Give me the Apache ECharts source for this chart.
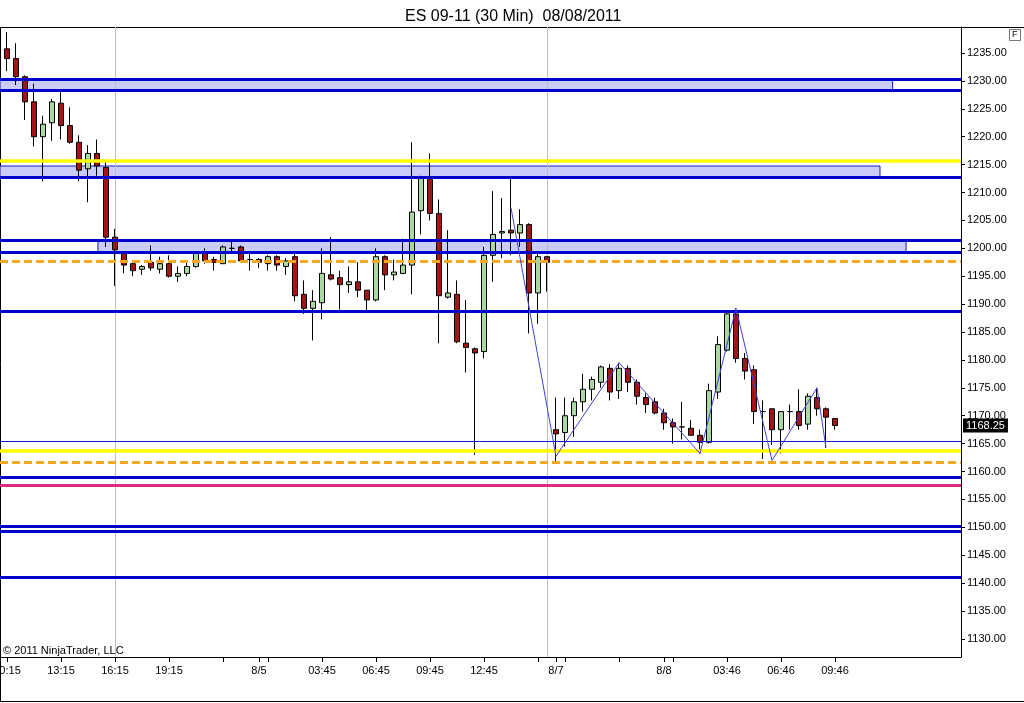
<!DOCTYPE html>
<html>
<head>
<meta charset="utf-8">
<title>ES 09-11 (30 Min)</title>
<script src="https://cdn.jsdelivr.net/npm/echarts@6/dist/echarts.min.js"></script>
<style>
html, body { margin: 0; padding: 0; background: #fff; }
#chart { width: 1024px; height: 703px; }
</style>
</head>
<body>
<div id="chart"></div>
<script>
// 30 min bars, index 0 = 8/4 10:15 ... index 92 = 8/8 09:46
// each bar: [open, close, low, high]
const bars = [
	[1235.75, 1234.0, 1231.75, 1238.75],
	[1234.0, 1230.75, 1229.25, 1236.75],
	[1230.75, 1226.25, 1223.0, 1231.0],
	[1226.25, 1220.0, 1218.25, 1229.5],
	[1220.0, 1222.25, 1212.0, 1223.75],
	[1222.5, 1226.25, 1219.25, 1226.75],
	[1226.0, 1222.0, 1219.5, 1228.0],
	[1222.0, 1219.0, 1218.75, 1225.25],
	[1219.0, 1214.0, 1212.0, 1220.25],
	[1214.25, 1217.0, 1208.25, 1218.5],
	[1217.0, 1214.75, 1213.0, 1219.5],
	[1214.5, 1202.0, 1200.25, 1215.75],
	[1202.0, 1199.75, 1193.25, 1203.5],
	[1199.25, 1197.0, 1195.5, 1199.5],
	[1197.25, 1196.0, 1195.0, 1197.5],
	[1196.25, 1196.75, 1195.25, 1197.0],
	[1197.5, 1196.5, 1196.0, 1200.5],
	[1196.25, 1197.25, 1195.5, 1198.5],
	[1197.25, 1195.0, 1194.75, 1198.75],
	[1195.0, 1195.5, 1194.0, 1196.75],
	[1195.5, 1196.75, 1195.0, 1197.5],
	[1196.75, 1199.25, 1196.5, 1199.5],
	[1199.25, 1197.75, 1197.25, 1200.0],
	[1198.0, 1197.5, 1196.0, 1198.5],
	[1197.25, 1200.25, 1197.25, 1200.5],
	[1200.0, 1200.0, 1199.5, 1201.25],
	[1200.25, 1197.75, 1197.75, 1200.5],
	[1198.0, 1198.0, 1196.0, 1199.0],
	[1198.0, 1197.5, 1196.5, 1198.25],
	[1197.25, 1198.5, 1196.0, 1198.75],
	[1198.5, 1197.0, 1196.0, 1198.75],
	[1196.75, 1197.75, 1195.25, 1198.25],
	[1198.5, 1191.5, 1190.5, 1199.0],
	[1191.75, 1189.25, 1188.25, 1194.25],
	[1189.25, 1190.5, 1183.5, 1192.5],
	[1190.25, 1195.5, 1187.25, 1200.0],
	[1195.25, 1194.5, 1194.25, 1202.0],
	[1194.75, 1193.5, 1189.0, 1196.0],
	[1193.5, 1194.0, 1192.0, 1196.75],
	[1194.0, 1192.5, 1191.25, 1197.5],
	[1192.5, 1190.75, 1188.75, 1192.5],
	[1190.75, 1198.5, 1190.5, 1200.0],
	[1198.5, 1195.25, 1192.5, 1198.75],
	[1195.25, 1195.75, 1194.25, 1198.0],
	[1195.5, 1197.0, 1195.5, 1201.75],
	[1197.0, 1206.5, 1191.75, 1219.0],
	[1206.75, 1212.75, 1202.5, 1213.0],
	[1212.75, 1206.25, 1205.0, 1217.0],
	[1206.25, 1191.5, 1183.0, 1208.75],
	[1191.25, 1192.0, 1191.0, 1203.25],
	[1191.75, 1183.25, 1183.0, 1194.25],
	[1183.0, 1182.25, 1177.75, 1190.75],
	[1182.0, 1181.25, 1163.0, 1182.25],
	[1181.5, 1198.75, 1180.25, 1200.25],
	[1198.75, 1202.5, 1194.0, 1210.25],
	[1202.75, 1203.0, 1198.25, 1209.0],
	[1203.25, 1202.75, 1198.75, 1212.5],
	[1202.75, 1204.25, 1200.25, 1207.0],
	[1204.25, 1192.0, 1184.75, 1204.5],
	[1192.0, 1198.5, 1186.5, 1199.5],
	[1198.5, 1197.5, 1192.25, 1198.5],
	[1167.5, 1166.75, 1161.5, 1173.25],
	[1167.0, 1170.0, 1164.5, 1173.25],
	[1170.0, 1172.5, 1166.25, 1173.25],
	[1172.5, 1174.75, 1170.75, 1177.5],
	[1174.75, 1176.5, 1172.75, 1177.0],
	[1176.0, 1178.75, 1175.0, 1179.0],
	[1178.5, 1174.25, 1172.75, 1179.25],
	[1174.5, 1178.5, 1173.0, 1179.5],
	[1178.5, 1176.0, 1174.25, 1179.0],
	[1176.0, 1173.5, 1172.0, 1176.5],
	[1173.25, 1172.0, 1170.5, 1174.0],
	[1172.5, 1170.5, 1170.25, 1173.25],
	[1170.5, 1168.75, 1167.5, 1171.25],
	[1168.75, 1168.0, 1165.0, 1169.5],
	[1168.0, 1168.0, 1165.75, 1172.5],
	[1167.75, 1166.5, 1166.5, 1169.25],
	[1166.5, 1165.25, 1163.25, 1167.5],
	[1165.25, 1174.5, 1165.0, 1175.75],
	[1174.25, 1182.75, 1173.0, 1184.25],
	[1181.75, 1188.25, 1181.5, 1188.5],
	[1188.25, 1180.25, 1179.5, 1189.25],
	[1180.25, 1178.0, 1176.5, 1181.25],
	[1178.25, 1170.75, 1168.5, 1179.0],
	[1170.75, 1170.75, 1162.25, 1172.75],
	[1171.25, 1167.5, 1164.75, 1171.25],
	[1167.5, 1170.75, 1163.25, 1170.75],
	[1170.75, 1170.75, 1167.5, 1172.0],
	[1170.75, 1168.25, 1167.5, 1174.75],
	[1168.5, 1173.5, 1167.5, 1174.0],
	[1173.25, 1171.25, 1170.0, 1175.0],
	[1171.25, 1169.75, 1164.25, 1171.5],
	[1169.5, 1168.25, 1167.5, 1169.5]
]

/* time axis */
const tickIndex = [0, 6, 12, 18, 24, 28, 29, 35, 41, 47, 53, 59, 61, 62, 68, 73, 74, 80, 86, 92]
const labelIndex = [0, 6, 12, 18, 28, 35, 41, 47, 53, 61, 73, 80, 86, 92]
const timeLabels = ['10:15', '13:15', '16:15', '19:15', '8/5', '03:45', '06:45', '09:45', '12:45', '8/7', '8/8', '03:46', '06:46', '09:46']
const sessionBreaks = [12, 60]

/* price axis */
const priceTicks = [1130, 1135, 1140, 1145, 1150, 1155, 1160, 1165, 1170, 1175, 1180, 1185,
	1190, 1195, 1200, 1205, 1210, 1215, 1220, 1225, 1230, 1235]

/* drawn levels */
const levelPrices = [1230.25, 1228.25, 1215.75, 1212.75, 1201.5, 1199.25, 1197.75, 1188.75,
	1165.5, 1163.75, 1161.75, 1159.0, 1157.5, 1150.25, 1149.25, 1141.0]
const levelKinds = ['blue', 'blue', 'yellow', 'blue', 'blue', 'blue', 'orange', 'blue',
	'thin', 'yellow', 'orange', 'blue', 'pink', 'blue', 'blue', 'blue']

/* zones: bar index from/to, price low/high */
const zoneFrom = [-0.78, -0.78, 10.1]
const zoneTo = [98.4, 97.0, 99.9]
const zoneLow = [1228.25, 1212.75, 1199.25]
const zoneHigh = [1230.25, 1214.75, 1201.5]

/* zigzag swing points: [bar index, price] */
const zigzag = [[56, 1207.25], [61, 1162.75], [68, 1179.5], [77, 1163.25],
	[81, 1189.25], [85, 1162.0], [90, 1175.0], [91, 1164.25]]


const FONT = 'Liberation Sans, Arial, sans-serif'

const levelStyle = {
	blue: {color: '#0000CD', width: 3, type: 'solid'},
	thin: {color: '#1414C8', width: 1, type: 'solid'},
	yellow: {color: '#FFFF00', width: 3.5, type: 'solid'},
	orange: {color: '#F5A623', width: 3, type: [8, 4]},
	pink: {color: '#DC2A7C', width: 3, type: 'solid'}
}

const chart = echarts.init(document.getElementById('chart'))
const lastClose = bars[bars.length - 1][1]

chart.setOption({
	animation: false,
	backgroundColor: '#fff',
	textStyle: {fontFamily: FONT},
	title: {
		text: 'ES 09-11 (30 Min)  08/08/2011',
		left: 400,
		top: 4,
		textStyle: {fontSize: 16, fontWeight: 'normal', color: '#000', fontFamily: FONT}
	},
	grid: {left: 0, right: 63, top: 27, bottom: 46, outerBoundsMode: 'none', containLabel: false},
	xAxis: {
		type: 'value',
		min: -0.78,
		max: 106,
		splitLine: {show: false},
		axisLine: {onZero: false, lineStyle: {color: '#000', width: 1}},
		axisTick: {customValues: tickIndex, length: 5, lineStyle: {color: '#000'}},
		axisLabel: {
			customValues: labelIndex,
			formatter: v => timeLabels[labelIndex.indexOf(v)],
			margin: 8,
			color: '#000',
			fontSize: 11,
			fontFamily: FONT
		}
	},
	yAxis: {
		type: 'value',
		position: 'right',
		min: 1126.77,
		max: 1239.66,
		scale: true,
		splitLine: {show: false},
		axisLine: {show: true, onZero: false, lineStyle: {color: '#000', width: 1}},
		axisTick: {show: true, customValues: priceTicks, length: 4, lineStyle: {color: '#000'}},
		axisLabel: {
			customValues: priceTicks,
			formatter: v => v.toFixed(2),
			margin: 6,
			color: '#000',
			fontSize: 11,
			fontFamily: FONT
		}
	},
	graphic: [
		{type: 'line', silent: true, shape: {x1: 0, y1: 27.5, x2: 1024, y2: 27.5}, style: {stroke: '#000', lineWidth: 1}},
		{type: 'line', silent: true, shape: {x1: 0.5, y1: 27, x2: 0.5, y2: 702}, style: {stroke: '#000', lineWidth: 1}},
		{type: 'line', silent: true, shape: {x1: 0, y1: 701.5, x2: 1024, y2: 701.5}, style: {stroke: '#000', lineWidth: 1}},
		{type: 'text', silent: true, left: 3, top: 645, z: 20,
			style: {text: '\u00a9 2011 NinjaTrader, LLC', font: '11px ' + FONT, fill: '#000'}},
		{type: 'rect', silent: true, left: 1009, top: 29, shape: {width: 11, height: 11},
			style: {fill: '#fff', stroke: '#777', lineWidth: 1}},
		{type: 'text', silent: true, left: 1012, top: 30,
			style: {text: 'F', font: '9px ' + FONT, fill: '#000'}}
	],
	series: [
		{
			// zones and session separators
			type: 'line',
			data: [],
			silent: true,
			markArea: {
				silent: true,
				z: 1,
				itemStyle: {color: '#C9CCF7', borderColor: '#1A1AC0', borderWidth: 1},
				data: zoneFrom.map((f, i) => [
					{xAxis: f, yAxis: zoneLow[i]},
					{xAxis: zoneTo[i], yAxis: zoneHigh[i]}
				])
			},
			markLine: {
				silent: true,
				z: 1.5,
				symbol: ['none', 'none'],
				label: {show: false},
				lineStyle: {color: '#BEBEBE', width: 1, type: 'solid'},
				data: sessionBreaks.map(b => ({xAxis: b}))
			}
		},
		{
			type: 'candlestick',
			data: bars.map((b, i) => [i, b[0], b[1], b[2], b[3]]),
			barWidth: 5,
			silent: true,
			z: 2,
			itemStyle: {
				color: '#A9D8A1',
				color0: '#A01616',
				borderColor: '#000',
				borderColor0: '#000',
				borderColorDoji: '#000',
				borderWidth: 1
			},
			markLine: {
				silent: true,
				z: 12,
				symbol: ['none', 'none'],
				lineStyle: {color: 'rgba(0,0,0,0)', width: 0},
				label: {
					show: true,
					position: 'end',
					distance: 2,
					formatter: p => p.value.toFixed(2),
					color: '#fff',
					backgroundColor: '#000',
					padding: [2, 3, 1, 3],
					fontSize: 11,
					fontFamily: FONT
				},
				data: [{yAxis: lastClose}]
			}
		},
		{
			// horizontal levels
			type: 'line',
			data: [],
			silent: true,
			markLine: {
				silent: true,
				z: 5,
				symbol: ['none', 'none'],
				label: {show: false},
				data: levelPrices.map((p, i) => ({yAxis: p, lineStyle: levelStyle[levelKinds[i]]}))
			}
		},
		{
			type: 'line',
			data: zigzag,
			silent: true,
			symbol: 'none',
			z: 6,
			lineStyle: {color: '#4040DC', width: 1}
		}
	]
})
</script>
</body>
</html>
